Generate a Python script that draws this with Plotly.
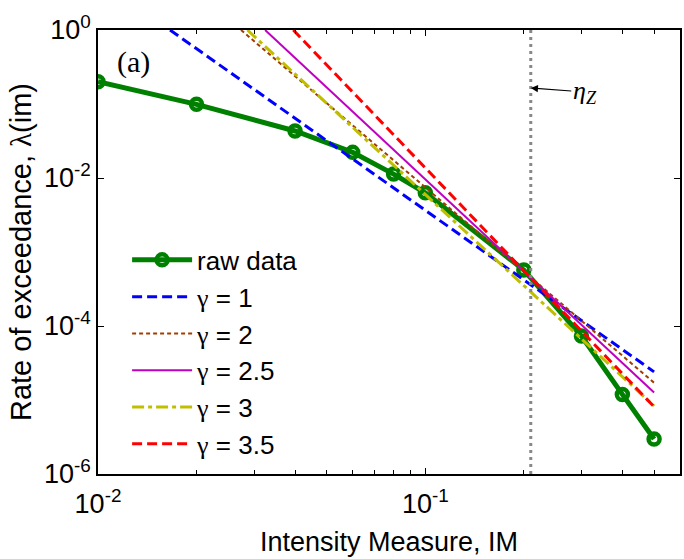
import math
import plotly.graph_objects as go

# ---- data ----
im_raw = [0.01, 0.02, 0.04, 0.06, 0.08, 0.1, 0.2, 0.3, 0.4, 0.5]
rate_raw = [0.20, 0.099, 0.0432, 0.0222, 0.0113, 0.0063, 5.7e-4, 7.3e-5, 1.19e-5, 2.97e-6]

im_g1 = [0.0166, 0.5]
rate_g1 = [1.0, 2.4e-5]
im_g2 = [0.02735, 0.5]
rate_g2 = [1.0, 1.71e-5]
im_g25 = [0.0324, 0.5]
rate_g25 = [1.0, 1.26e-5]
im_g3 = [0.0286, 0.5]
rate_g3 = [1.0, 8.3e-6]
im_g35 = [0.0395, 0.5]
rate_g35 = [1.0, 8.1e-6]

eta_z = 0.21
x_range = [0.01, 0.6]
y_range = [1e-6, 1.0]

x_tickvals = [0.01, 0.1]
x_ticktext = ["10<sup>-2</sup>", "10<sup>-1</sup>"]
x_minor = [0.02, 0.03, 0.04, 0.05, 0.06, 0.07, 0.08, 0.09, 0.2, 0.3, 0.4, 0.5]
y_tickvals = [1e-6, 1e-4, 1e-2, 1.0]
y_ticktext = ["10<sup>-6</sup>", "10<sup>-4</sup>", "10<sup>-2</sup>", "10<sup>0</sup>"]

FONT = "Liberation Sans, Arial, sans-serif"
SERIF = "Liberation Serif"
FS = 27
GREEK = "<span style=\"font-family:" + SERIF + "\">{}</span>"

fig = go.Figure()

fig.add_trace(go.Scatter(
    x=im_raw, y=rate_raw, mode="lines+markers", name="raw data",
    line=dict(color="#008000", width=5),
    marker=dict(symbol="circle-open", size=11, color="#008000", line=dict(width=4.5, color="#008000")),
))
fig.add_trace(go.Scatter(x=im_g1, y=rate_g1, mode="lines", name=GREEK.format("γ") + " = 1",
                         line=dict(color="#0000FF", width=3, dash="10px,5px")))
fig.add_trace(go.Scatter(x=im_g2, y=rate_g2, mode="lines", name=GREEK.format("γ") + " = 2",
                         line=dict(color="#A33C00", width=2, dash="4px,3px")))
fig.add_trace(go.Scatter(x=im_g25, y=rate_g25, mode="lines", name=GREEK.format("γ") + " = 2.5",
                         line=dict(color="#C000C0", width=2)))
fig.add_trace(go.Scatter(x=im_g3, y=rate_g3, mode="lines", name=GREEK.format("γ") + " = 3",
                         line=dict(color="#BFBF00", width=3, dash="12px,4px,4px,4px")))
fig.add_trace(go.Scatter(x=im_g35, y=rate_g35, mode="lines", name=GREEK.format("γ") + " = 3.5",
                         line=dict(color="#FF0000", width=3, dash="10px,5px")))
fig.add_trace(go.Scatter(x=[eta_z, eta_z], y=y_range, mode="lines", showlegend=False,
                         line=dict(color="#888888", width=3, dash="3px,4px")))

axis_common = dict(
    type="log", showline=True, linecolor="black", linewidth=1.5, mirror="allticks",
    ticks="inside", ticklen=6, tickcolor="black", tickwidth=1,
    showgrid=False, zeroline=False,
    tickfont=dict(family=FONT, size=FS, color="black"),
)

fig.update_xaxes(
    **axis_common,
    range=[math.log10(x_range[0]), math.log10(x_range[1])],
    tickvals=x_tickvals, ticktext=x_ticktext, ticklabelstandoff=5,
    minor=dict(ticks="inside", ticklen=4, tickcolor="black", tickvals=x_minor, showgrid=False),
    title=dict(text="Intensity Measure, IM", font=dict(family=FONT, size=FS, color="black"), standoff=14),
)
fig.update_yaxes(
    **axis_common,
    range=[math.log10(y_range[0]), math.log10(y_range[1])],
    tickvals=y_tickvals, ticktext=y_ticktext,
    title=dict(text="Rate of exceedance, " + GREEK.format("λ") + "(im)",
               font=dict(family=FONT, size=29, color="black"), standoff=4),
)

fig.add_annotation(
    x=math.log10(eta_z), y=-0.784, xref="x", yref="y",
    text="<i>η</i><sub><i>Z</i></sub>", showarrow=True,
    ax=54, ay=4, arrowhead=2, arrowsize=1.2, arrowwidth=1.2, arrowcolor="black",
    font=dict(family="Liberation Serif, Times New Roman, serif", size=26, color="black"),
)
fig.add_annotation(
    x=0.03, y=0.97, xref="paper", yref="paper", text="(a)", showarrow=False,
    xanchor="left", yanchor="top",
    font=dict(family="Liberation Serif, Times New Roman, serif", size=30, color="black"),
)

fig.update_layout(
    width=684, height=559,
    margin=dict(l=98, r=2, t=30, b=85),
    paper_bgcolor="white", plot_bgcolor="white",
    font=dict(family=FONT, size=FS, color="black"),
    legend=dict(
        x=0.05, y=0.535, xanchor="left", yanchor="top",
        bgcolor="rgba(0,0,0,0)", borderwidth=0,
        font=dict(family=FONT, size=26, color="black"),
        itemwidth=60, tracegroupgap=0,
    ),
)

fig.write_html("out.html")
